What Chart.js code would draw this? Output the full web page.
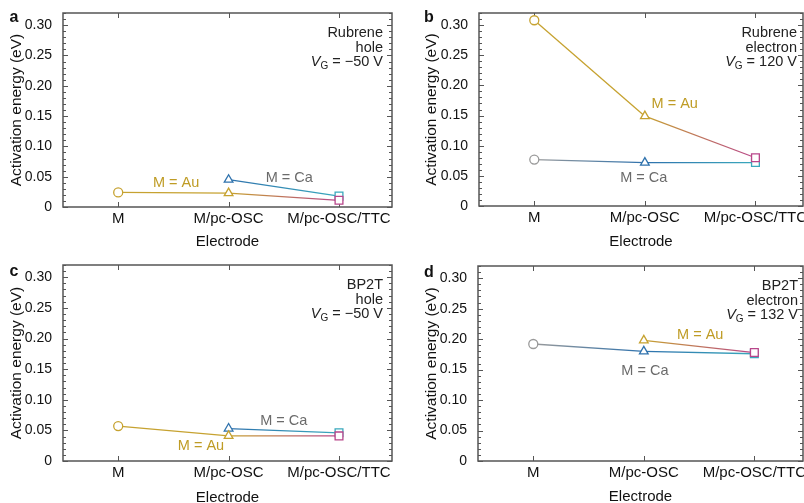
<!DOCTYPE html>
<html>
<head>
<meta charset="utf-8">
<script src="https://cdn.jsdelivr.net/npm/chart.js@4.4.1/dist/chart.umd.min.js"></script>
<style>
  html, body { margin: 0; padding: 0; background: #fff; overflow: hidden; width: 804px; height: 503px; position: relative; }
  canvas { position: absolute; }
</style>
</head>
<body>
<canvas id="pa" width="420" height="265" style="left:0;top:0"></canvas>
<canvas id="pb" width="420" height="265" style="left:400px;top:0"></canvas>
<canvas id="pc" width="420" height="265" style="left:0;top:250px"></canvas>
<canvas id="pd" width="420" height="265" style="left:400px;top:250px"></canvas>
<script>
// categories on the x axis
const electrodes = ['M', 'M/pc-OSC', 'M/pc-OSC/TTC'];
const markerStyles = ['circle', 'triangle', 'rect'];
const markerSizes = [4.5, 5, 5.5];

// activation energy (eV), one value per electrode, null = not measured
const rubreneHoleAu = [0.024, 0.023, 0.011];
const rubreneHoleCa = [null, 0.045, 0.018];
const rubreneElectronAu = [0.308, 0.149, 0.080];
const rubreneElectronCa = [0.077, 0.072, 0.072];
const bp2tHoleAu = [0.057, 0.041, 0.041];
const bp2tHoleCa = [null, 0.053, 0.046];
const bp2tElectronAu = [null, 0.198, 0.178];
const bp2tElectronCa = [0.192, 0.180, 0.176];

const yMax = 0.32;

const FONT = "'Liberation Sans', Arial, Helvetica, sans-serif";
const GOLD = '#c6a230', MAG = '#b8468a', BLUE = '#2f72ad', CYAN = '#3aa9bd', GRAY = '#9a9a9a';
const auColors = [GOLD, GOLD, MAG];
const caColors = [GRAY, BLUE, CYAN];

function series(vals, colors, canvasId) {
  const pts = [];
  vals.forEach((v, i) => { if (v !== null) pts.push({x: i, y: v}); });
  const g2d = document.getElementById(canvasId).getContext('2d');
  return {
    data: pts,
    pointStyle: pts.map(p => markerStyles[p.x]),
    pointRadius: pts.map(p => markerSizes[p.x]),
    pointBorderColor: pts.map(p => colors[p.x]),
    pointBackgroundColor: '#fff',
    pointBorderWidth: 1.3,
    borderWidth: 1.3,
    borderColor: colors[1],
    clip: false,
    segment: {
      borderColor: s => {
        const c0 = colors[pts[s.p0DataIndex].x], c1 = colors[pts[s.p1DataIndex].x];
        if (c0 === c1) return c0;
        const g = g2d.createLinearGradient(s.p0.x, 0, s.p1.x, 0);
        g.addColorStop(0, c0);
        g.addColorStop(1, c1);
        return g;
      }
    }
  };
}

// frame with inward ticks on all four sides
const framePlugin = {
  id: 'frame',
  beforeDatasetsDraw(chart) {
    const {ctx, chartArea: a, scales: {x, y}} = chart;
    ctx.save();
    ctx.strokeStyle = '#555';
    ctx.lineWidth = 1.5;
    ctx.strokeRect(a.left, a.top, a.right - a.left, a.bottom - a.top);
    ctx.lineWidth = 1;
    ctx.beginPath();
    y.ticks.forEach(t => {
      const py = Math.round(y.getPixelForValue(t.value)) + 0.5;
      const len = Math.round(t.value * 100) % 5 === 0 ? 5 : 3;
      ctx.moveTo(a.left, py); ctx.lineTo(a.left + len, py);
      ctx.moveTo(a.right, py); ctx.lineTo(a.right - len, py);
    });
    x.ticks.forEach(t => {
      const px = Math.round(x.getPixelForValue(t.value)) + 0.5;
      ctx.moveTo(px, a.bottom); ctx.lineTo(px, a.bottom - 5);
      ctx.moveTo(px, a.top); ctx.lineTo(px, a.top + 5);
    });
    ctx.stroke();
    ctx.restore();
  }
};

// panel letter, corner text and the "M = ..." labels
const notesPlugin = {
  id: 'notes',
  afterDatasetsDraw(chart, args, o) {
    const {ctx, chartArea: a, scales: {x, y}} = chart;
    ctx.save();
    ctx.textBaseline = 'middle';
    ctx.fillStyle = '#111';
    ctx.font = 'bold 16px ' + FONT;
    ctx.textAlign = 'center';
    ctx.fillText(o.letter, o.letterPos[0], o.letterPos[1]);

    const rx = a.right - o.cornerRight;
    ctx.font = '14.5px ' + FONT;
    ctx.fillStyle = '#222';
    ctx.textAlign = 'right';
    ctx.fillText(o.lines[0], rx, a.top + 20);
    ctx.fillText(o.lines[1], rx, a.top + 34.5);
    const ly = a.top + 49;
    const rest = ' = ' + o.vg;
    const wRest = ctx.measureText(rest).width;
    ctx.font = '10px ' + FONT;
    const wG = ctx.measureText('G').width;
    ctx.font = 'italic 14.5px ' + FONT;
    const wV = ctx.measureText('V').width;
    const sx = rx - wRest - wG - wV;
    ctx.textAlign = 'left';
    ctx.fillText('V', sx, ly);
    ctx.font = '10px ' + FONT;
    ctx.fillText('G', sx + wV, ly + 4);
    ctx.font = '14.5px ' + FONT;
    ctx.fillText(rest, sx + wV + wG, ly);

    ctx.textAlign = 'center';
    ctx.font = '14.5px ' + FONT;
    ctx.fillStyle = '#bf9c25';
    ctx.fillText('M = Au', x.getPixelForValue(o.au[0]), y.getPixelForValue(o.au[1]));
    ctx.fillStyle = '#6b6b6b';
    ctx.fillText('M = Ca', x.getPixelForValue(o.ca[0]), y.getPixelForValue(o.ca[1]));
    ctx.restore();
  }
};

function makePanel(id, au, ca, p) {
  const W = 420, H = 265;
  return new Chart(document.getElementById(id), {
    type: 'line',
    data: { datasets: [series(au, auColors, id), series(ca, caColors, id)] },
    plugins: [framePlugin, notesPlugin],
    options: {
      responsive: false,
      animation: false,
      layout: { padding: { left: 0, top: p.area[1], right: W - p.area[2], bottom: 0 } },
      plugins: {
        legend: { display: false },
        tooltip: { enabled: false },
        notes: p.notes
      },
      scales: {
        x: {
          type: 'linear',
          min: -0.5,
          max: p.xMax,
          grid: { display: false },
          border: { display: false },
          afterBuildTicks: s => { s.ticks = electrodes.map((_, i) => ({ value: i })); },
          ticks: {
            autoSkip: false, maxRotation: 0, padding: -5, color: '#111',
            font: { family: FONT, size: 15 },
            callback: v => electrodes[v] ?? ''
          },
          title: {
            display: true, text: 'Electrode', color: '#111',
            font: { family: FONT, size: 15 },
            padding: { top: 0, bottom: p.xTitlePad }
          },
          afterFit: s => { s.height = H - p.area[3]; }
        },
        y: {
          type: 'linear',
          min: 0,
          max: yMax,
          grid: { display: false },
          border: { display: false },
          ticks: {
            stepSize: 0.01, autoSkip: false, padding: 3, color: '#111',
            font: { family: FONT, size: 14 },
            callback: v => {
              const r = Math.round(v * 100);
              if (r % 5 || r > 30) return '';
              return r === 0 ? '0' : (r / 100).toFixed(2);
            }
          },
          title: {
            display: true, text: 'Activation energy (eV)', color: '#111',
            font: { family: FONT, size: 15.5 },
            padding: { top: p.yTitlePad, bottom: 0 }
          },
          afterFit: s => { s.width = p.area[0]; }
        }
      }
    }
  });
}

makePanel('pa', rubreneHoleAu, rubreneHoleCa, {
  area: [63, 13, 392, 207], xMax: 2.48, xTitlePad: 14, yTitlePad: 7.7,
  notes: { letter: 'a', letterPos: [14, 18], cornerRight: 9, lines: ['Rubrene', 'hole'], vg: '\u221250 V',
           au: [0.525, 0.039], ca: [1.55, 0.048] }
});
makePanel('pb', rubreneElectronAu, rubreneElectronCa, {
  area: [79, 13, 403, 206], xMax: 2.43, xTitlePad: 14, yTitlePad: 22.7,
  notes: { letter: 'b', letterPos: [29, 18], cornerRight: 6, lines: ['Rubrene', 'electron'], vg: '120 V',
           au: [1.27, 0.169], ca: [0.99, 0.046] }
});
makePanel('pc', bp2tHoleAu, bp2tHoleCa, {
  area: [63, 15, 392, 211], xMax: 2.48, xTitlePad: 8, yTitlePad: 7.7,
  notes: { letter: 'c', letterPos: [14, 22], cornerRight: 9, lines: ['BP2T', 'hole'], vg: '\u221250 V',
           au: [0.75, 0.025], ca: [1.50, 0.066] }
});
makePanel('pd', bp2tElectronAu, bp2tElectronCa, {
  area: [78, 16, 403, 211], xMax: 2.44, xTitlePad: 9, yTitlePad: 22.7,
  notes: { letter: 'd', letterPos: [29, 23], cornerRight: 5, lines: ['BP2T', 'electron'], vg: '132 V',
           au: [1.51, 0.206], ca: [1.01, 0.148] }
});
</script>
</body>
</html>
